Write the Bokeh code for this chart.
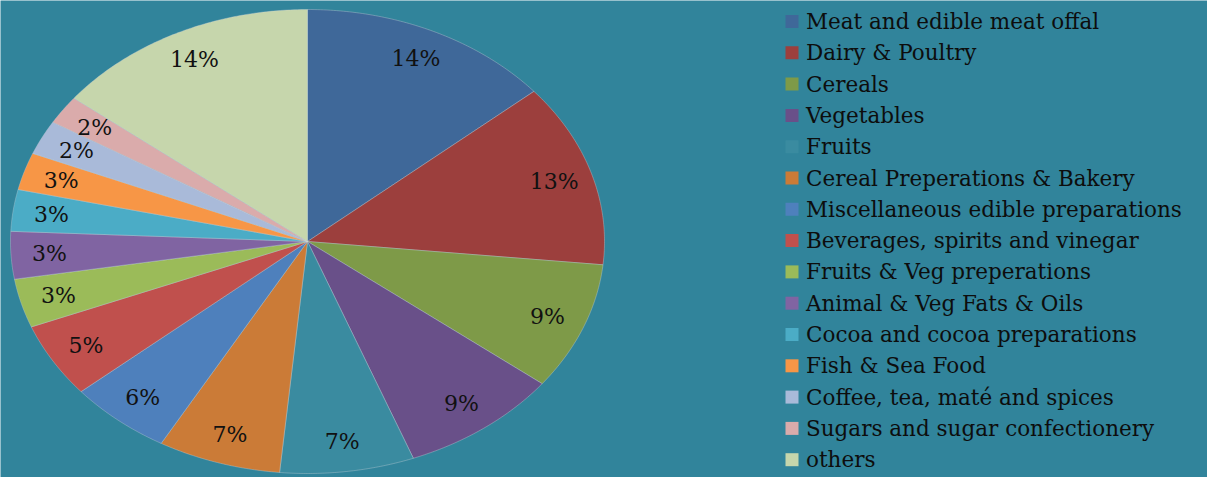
import numpy as np
from bokeh.plotting import figure
from bokeh.models import Range1d, ColumnDataSource
from bokeh.core.properties import value
from bokeh.embed import file_html
from bokeh.resources import INLINE

categories = [
    "Meat and edible meat offal", "Dairy & Poultry", "Cereals", "Vegetables", "Fruits",
    "Cereal Preperations & Bakery", "Miscellaneous edible preparations",
    "Beverages, spirits and vinegar", "Fruits & Veg preperations", "Animal & Veg Fats & Oils",
    "Cocoa and cocoa preparations", "Fish & Sea Food", "Coffee, tea, maté and spices",
    "Sugars and sugar confectionery", "others",
]
shares = [13.8, 12.8, 8.9, 8.7, 7.3, 6.7, 5.6, 5.2, 3.4, 3.3, 2.9, 2.6, 2.4, 2.0, 14.4]
colors = [
    "#3F6899", "#9C3F3D", "#7E9A48", "#695089", "#3A8BA0", "#CB7B37", "#4E80BC",
    "#C0504D", "#9BBB59", "#8064A2", "#4BACC6", "#F79646", "#A9BAD9", "#DAABAB", "#C6D6AC",
]

W, H = 1207, 477
BG = "#31849B"
CX, CY, RX, RY = 307, 241, 297, 232
LABEL_R = 0.87
FONT = "DejaVu Serif"

p = figure(width=W, height=H, output_backend="svg", toolbar_location=None,
           x_range=Range1d(0, W), y_range=Range1d(H, 0), min_border=0)
p.axis.visible = False
p.grid.visible = False
p.outline_line_color = None
p.background_fill_color = BG
p.border_fill_color = BG

vals = np.array(shares, dtype=float)
fr = vals / vals.sum()
ends = np.cumsum(fr) * 2 * np.pi
starts = ends - fr * 2 * np.pi

xs, ys, lx, ly, labels = [], [], [], [], []
for s, e, f in zip(starts, ends, fr):
    t = np.linspace(s, e, 80)
    xs.append(np.concatenate([[CX], CX + RX * np.sin(t)]).tolist())
    ys.append(np.concatenate([[CY], CY - RY * np.cos(t)]).tolist())
    m = (s + e) / 2
    lx.append(CX + LABEL_R * RX * np.sin(m))
    ly.append(CY - LABEL_R * RY * np.cos(m))
    labels.append(f"{int(round(f * 100))}%")

p.patches(xs="xs", ys="ys", fill_color="color", line_color="#d0d8dc", line_alpha=0.35,
          line_width=1, source=ColumnDataSource(dict(xs=xs, ys=ys, color=colors)))
p.text(x=lx, y=ly, text=labels, text_align="center", text_baseline="middle",
       text_font=value(FONT), text_font_size="22px", text_color="#111111")

# legend
LX, LY0, LDY = 791.5, 21, 31.3
ly_leg = [LY0 + i * LDY for i in range(len(categories))]
p.rect(x=[LX] * len(categories), y=ly_leg, width=13, height=13, fill_color=colors, line_color=None)
p.text(x=[LX + 14] * len(categories), y=ly_leg, text=categories, text_align="left",
       text_baseline="middle", text_font=value(FONT), text_font_size="21.5px", text_color="#0d0d0d")

open("out.html", "w").write(file_html(p, INLINE))
